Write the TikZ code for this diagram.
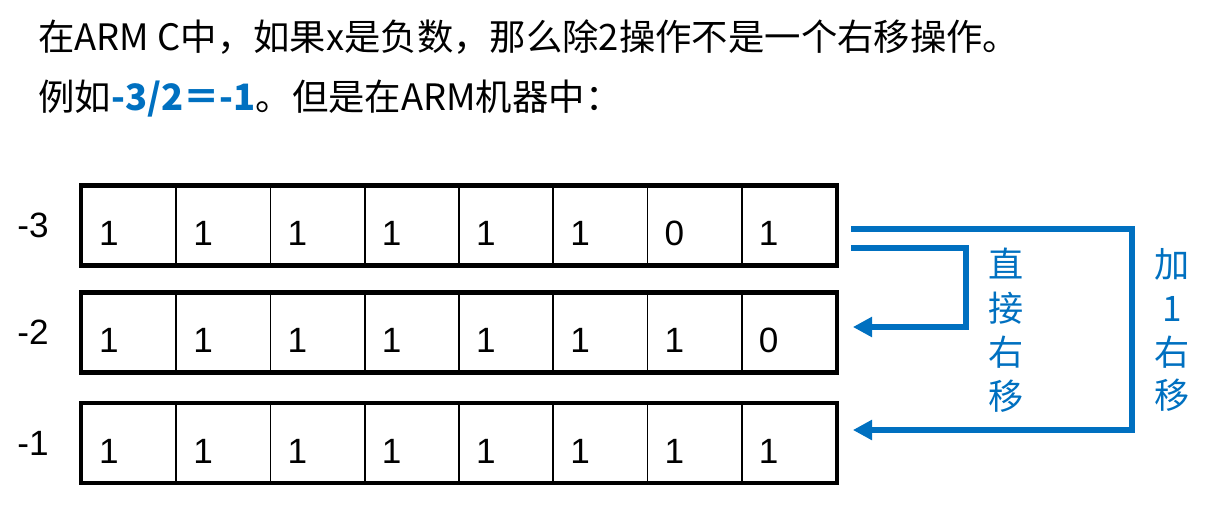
\documentclass[tikz,border=0pt]{standalone}
\usepackage{fontspec}
\setmainfont{Liberation Sans}
\newfontfamily\cjk{Noto Sans CJK SC}
\usepackage{xcolor}
\usepackage{tikz}
\usetikzlibrary{arrows.meta,positioning}
\definecolor{ArmBlue}{RGB}{0,112,192}

\begin{document}
\begin{tikzpicture}[x=0.02cm, y=-0.02cm,
    bitcell/.style={draw, line width=1pt, minimum width=1.885cm, minimum height=1.56cm,
      inner xsep=0.34cm, inner ysep=0pt, text width=1.2cm, align=left,
      text height=23pt, text depth=0pt, font=\fontsize{20}{24}\selectfont},
    shiftarrow/.style={draw=ArmBlue, line width=3.4pt, -{Triangle[length=11pt, width=11pt]}},
    sidetext/.style={ArmBlue, align=center, font=\cjk\fontsize{20}{25}\selectfont}]
    \useasboundingbox (0,0) rectangle (1231,528);
    % heading lines
    \node[anchor=base west, inner sep=0pt, font=\cjk\fontsize{20.7}{24}\selectfont] (line1) at (38,50)
      {在ARM C中，如果x是负数，那么除2操作不是一个右移操作。};
    \node[anchor=base west, inner sep=0pt, font=\cjk\fontsize{20.7}{24}\selectfont] (line2) at (38,110)
      {例如{\bfseries\color{ArmBlue}-3/2＝-1}。但是在ARM机器中：};
    % the three registers
    \foreach \r/\yc/\val/\bits in {1/225.5/-3/{1,1,1,1,1,1,0,1},
                                   2/332.5/-2/{1,1,1,1,1,1,1,0},
                                   3/443/-1/{1,1,1,1,1,1,1,1}} {
      \foreach \b [count=\c] in \bits {
        \node[bitcell] (c\r-\c) at ({82+94.25*(\c-0.5)},\yc) {\b};
      }
      \draw[line width=2.6pt] (c\r-1.north west) rectangle (c\r-8.south east);
      \node[anchor=base west, inner sep=0pt, font=\fontsize{20}{24}\selectfont] (v\r) at (17,{\yc+12}) {\val};
    }
    % shift arrows
    \draw[shiftarrow] ([xshift=0.28cm,yshift=-0.45cm]c1-8.east) -- ++(115,0)
      |- ([xshift=0.32cm,yshift=0.11cm]c2-8.east);
    \draw[shiftarrow] ([xshift=0.28cm,yshift=-0.07cm]c1-8.east) -- ++(281,0)
      |- ([xshift=0.32cm,yshift=0.26cm]c3-8.east);
    \node[sidetext] (plain) at (1006,330) {直\\接\\右\\移};
    \node[sidetext] (plusone) at (1172,330) {加\\1\\右\\移};
  \end{tikzpicture}
\end{document}
